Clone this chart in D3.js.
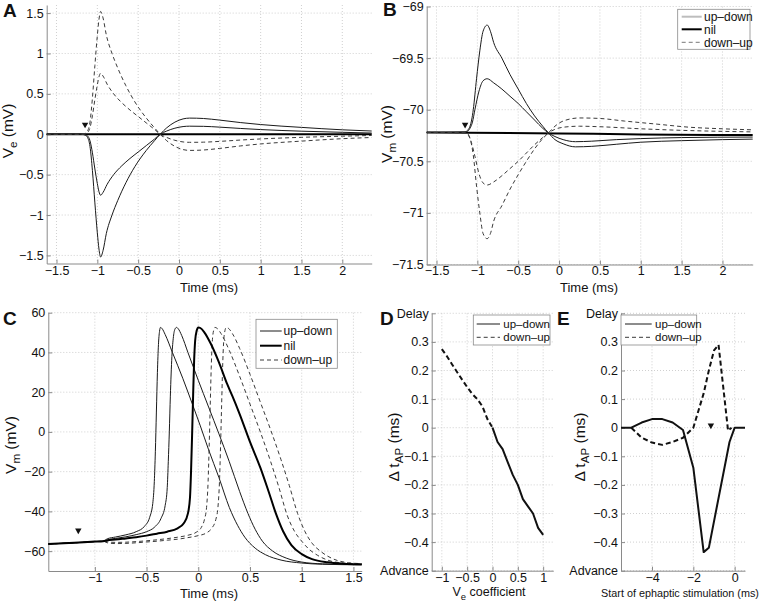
<!DOCTYPE html>
<html><head><meta charset="utf-8">
<script src="https://cdn.jsdelivr.net/npm/d3@7"></script>
<style>body{margin:0;background:#fff} text{font-family:"Liberation Sans",Arial,sans-serif;fill:#111}</style>
</head><body><svg id="c" width="763" height="602"></svg>
<script>
// ---------- Panel A: extracellular potential Ve (mV) ----------
const aUpDownBig = [[-1.62,0],[-1.2,0],[-1.15,-0.01],[-1.12,-0.04],[-1.09,-0.15],[-1.06,-0.45],[-1.03,-0.85],[-1.0,-1.22],[-0.98,-1.42],[-0.96,-1.52],[-0.93,-1.44],[-0.89,-1.23],[-0.82,-1.0],[-0.75,-0.82],[-0.65,-0.6],[-0.54,-0.4],[-0.4,-0.2],[-0.3,-0.08],[-0.23,0],[-0.15,0.08],[-0.05,0.15],[0.05,0.19],[0.13,0.2],[0.3,0.195],[0.5,0.175],[0.75,0.145],[1.0,0.12],[1.5,0.085],[2.0,0.055],[2.36,0.04]];
const aUpDownSmall = [[-1.62,0],[-1.2,0],[-1.15,-0.005],[-1.12,-0.02],[-1.09,-0.08],[-1.06,-0.23],[-1.03,-0.43],[-1.0,-0.61],[-0.98,-0.71],[-0.96,-0.755],[-0.93,-0.72],[-0.88,-0.62],[-0.8,-0.5],[-0.7,-0.39],[-0.6,-0.3],[-0.5,-0.22],[-0.4,-0.14],[-0.3,-0.06],[-0.23,0],[-0.15,0.04],[-0.05,0.075],[0.05,0.095],[0.13,0.1],[0.3,0.098],[0.5,0.088],[0.75,0.072],[1.0,0.058],[1.5,0.038],[2.0,0.024],[2.36,0.015]];
const aNil = [[-1.62,0],[2.36,0]];
const aDownUpBig = [[-1.62,0],[-1.2,0],[-1.15,0.01],[-1.12,0.04],[-1.09,0.15],[-1.06,0.45],[-1.03,0.85],[-1.0,1.22],[-0.98,1.42],[-0.96,1.52],[-0.93,1.44],[-0.89,1.23],[-0.82,1.0],[-0.75,0.82],[-0.65,0.6],[-0.54,0.4],[-0.4,0.2],[-0.3,0.08],[-0.23,0],[-0.15,-0.08],[-0.05,-0.15],[0.05,-0.19],[0.13,-0.2],[0.3,-0.195],[0.5,-0.175],[0.75,-0.145],[1.0,-0.12],[1.5,-0.085],[2.0,-0.055],[2.36,-0.04]];
const aDownUpSmall = [[-1.62,0],[-1.2,0],[-1.15,0.005],[-1.12,0.02],[-1.09,0.08],[-1.06,0.23],[-1.03,0.43],[-1.0,0.61],[-0.98,0.71],[-0.96,0.755],[-0.93,0.72],[-0.88,0.62],[-0.8,0.5],[-0.7,0.39],[-0.6,0.3],[-0.5,0.22],[-0.4,0.14],[-0.3,0.06],[-0.23,0],[-0.15,-0.04],[-0.05,-0.075],[0.05,-0.095],[0.13,-0.1],[0.3,-0.098],[0.5,-0.088],[0.75,-0.072],[1.0,-0.058],[1.5,-0.038],[2.0,-0.024],[2.36,-0.015]];
const aMarker = [-1.15, 0.12];
const aXTicks = [-1.5,-1,-0.5,0,0.5,1,1.5,2];
const aYTicks = [-1.5,-1,-0.5,0,0.5,1,1.5];

// ---------- Panel B: membrane potential Vm (mV) ----------
const bUpDownBig = [[-1.62,-70.22],[-1.15,-70.215],[-1.12,-70.2],[-1.09,-70.16],[-1.07,-70.1],[-1.05,-70.0],[-1.01,-69.7],[-0.97,-69.43],[-0.93,-69.24],[-0.88,-69.18],[-0.84,-69.24],[-0.8,-69.35],[-0.7,-69.5],[-0.6,-69.66],[-0.5,-69.8],[-0.4,-69.94],[-0.3,-70.06],[-0.2,-70.16],[-0.13,-70.225],[-0.05,-70.29],[0.05,-70.33],[0.2,-70.36],[0.4,-70.355],[0.7,-70.335],[1.0,-70.315],[1.5,-70.3],[2.0,-70.29],[2.37,-70.285]];
const bUpDownSmall = [[-1.62,-70.22],[-1.15,-70.218],[-1.12,-70.21],[-1.09,-70.18],[-1.06,-70.12],[-1.03,-70.0],[-0.98,-69.82],[-0.93,-69.72],[-0.88,-69.70],[-0.8,-69.74],[-0.7,-69.8],[-0.6,-69.87],[-0.5,-69.94],[-0.4,-70.02],[-0.3,-70.1],[-0.2,-70.18],[-0.13,-70.225],[-0.05,-70.26],[0.05,-70.29],[0.2,-70.31],[0.4,-70.305],[0.7,-70.29],[1.0,-70.28],[1.5,-70.27],[2.37,-70.265]];
const bNil = [[-1.62,-70.22],[0,-70.23],[1,-70.24],[2.37,-70.245]];
const bDownUpBig = [[-1.62,-70.22],[-1.15,-70.225],[-1.12,-70.24],[-1.09,-70.28],[-1.05,-70.44],[-1.01,-70.74],[-0.97,-71.0],[-0.93,-71.2],[-0.88,-71.25],[-0.84,-71.2],[-0.8,-71.08],[-0.7,-70.93],[-0.6,-70.77],[-0.5,-70.63],[-0.4,-70.5],[-0.3,-70.38],[-0.2,-70.28],[-0.13,-70.225],[-0.05,-70.16],[0.05,-70.11],[0.25,-70.08],[0.5,-70.085],[0.8,-70.11],[1.2,-70.14],[1.6,-70.17],[2.0,-70.185],[2.37,-70.195]];
const bDownUpSmall = [[-1.62,-70.22],[-1.15,-70.222],[-1.12,-70.23],[-1.08,-70.3],[-1.03,-70.45],[-0.98,-70.62],[-0.93,-70.71],[-0.88,-70.73],[-0.8,-70.7],[-0.7,-70.64],[-0.6,-70.57],[-0.5,-70.5],[-0.4,-70.42],[-0.3,-70.34],[-0.2,-70.27],[-0.13,-70.225],[-0.05,-70.19],[0.05,-70.17],[0.25,-70.16],[0.5,-70.165],[1.0,-70.185],[1.5,-70.2],[2.37,-70.215]];
const bMarker = [-1.15, -70.145];
const bXTicks = [-1.5,-1,-0.5,0,0.5,1,1.5,2];
const bYTicks = [-71.5,-71,-70.5,-70,-69.5,-69];

// ---------- Panel C: action potentials Vm (mV) ----------
const cUpDown1 = [[-1.45,-56.4],[-1.2,-55.8],[-1.0,-55.2],[-0.92,-55.0],[-0.88,-53.8],[-0.8,-52.9],[-0.7,-51.8],[-0.6,-50.2],[-0.52,-47.5],[-0.47,-43],[-0.44,-36],[-0.425,-25],[-0.415,-10],[-0.405,10],[-0.395,30],[-0.385,44],[-0.375,50.5],[-0.365,52.6],[-0.35,52],[-0.32,49],[-0.25,40],[-0.15,27],[-0.05,13],[0.02,3],[0.1,-9],[0.2,-23],[0.3,-38],[0.38,-47],[0.45,-53],[0.55,-58.5],[0.65,-61.8],[0.8,-64.5],[1.0,-66.0],[1.2,-66.6],[1.58,-66.9]];
const cUpDown2 = [[-1.45,-56.4],[-1.2,-55.8],[-1.0,-55.2],[-0.92,-55.0],[-0.88,-54.3],[-0.8,-53.6],[-0.7,-52.8],[-0.6,-51.7],[-0.5,-50.2],[-0.42,-47.8],[-0.36,-43.5],[-0.32,-37],[-0.3,-28],[-0.29,-15],[-0.28,0],[-0.27,18],[-0.255,38],[-0.24,48],[-0.225,51.8],[-0.21,52.6],[-0.195,52],[-0.16,48.5],[-0.1,40],[0,26],[0.1,12.5],[0.2,-1],[0.3,-15],[0.4,-30],[0.48,-41],[0.55,-49],[0.62,-55],[0.72,-60],[0.85,-63.5],[1.0,-65.5],[1.2,-66.4],[1.58,-66.8]];
const cNil = [[-1.45,-56.4],[-1.2,-55.8],[-1.0,-55.2],[-0.92,-55.0],[-0.88,-54.6],[-0.8,-54.2],[-0.7,-53.6],[-0.6,-53],[-0.5,-52.2],[-0.4,-51.2],[-0.3,-50.2],[-0.2,-48.5],[-0.14,-46],[-0.1,-41],[-0.08,-33],[-0.07,-20],[-0.06,-2],[-0.05,18],[-0.04,36],[-0.03,46],[-0.015,51],[0,52.6],[0.02,52.3],[0.06,50],[0.12,44.5],[0.2,35],[0.28,24],[0.33,18],[0.4,9],[0.5,-5],[0.6,-18],[0.68,-30],[0.75,-41],[0.82,-50],[0.9,-57],[1.0,-61.5],[1.1,-64],[1.25,-65.6],[1.4,-66.3],[1.58,-66.6]];
const cDownUp1 = [[-1.45,-56.4],[-1.2,-55.8],[-1.0,-55.2],[-0.92,-55.0],[-0.88,-55.4],[-0.8,-55.6],[-0.7,-55.5],[-0.6,-55.2],[-0.5,-54.8],[-0.4,-54.3],[-0.3,-53.7],[-0.2,-53],[-0.1,-52],[-0.02,-50.5],[0.03,-48],[0.06,-44],[0.08,-38],[0.095,-25],[0.105,-8],[0.115,12],[0.125,32],[0.135,45],[0.148,51],[0.16,52.6],[0.18,52.2],[0.22,49.5],[0.3,41],[0.4,28],[0.5,14],[0.6,0],[0.7,-15],[0.78,-28],[0.86,-42],[0.93,-50],[1.0,-55],[1.07,-59],[1.15,-62],[1.25,-64.5],[1.4,-66],[1.58,-66.5]];
const cDownUp2 = [[-1.45,-56.4],[-1.2,-55.8],[-1.0,-55.2],[-0.92,-55.0],[-0.88,-55.8],[-0.8,-56.2],[-0.7,-56.1],[-0.6,-55.8],[-0.5,-55.4],[-0.4,-55],[-0.3,-54.5],[-0.2,-54],[-0.1,-53.2],[0,-52.2],[0.08,-50.8],[0.13,-48.5],[0.17,-44],[0.19,-38],[0.205,-25],[0.215,-8],[0.225,12],[0.235,32],[0.245,45],[0.258,51],[0.27,52.6],[0.29,52.2],[0.33,49.5],[0.4,42],[0.5,29],[0.6,15],[0.7,1],[0.8,-14],[0.88,-27],[0.96,-41],[1.03,-50],[1.1,-56],[1.18,-60],[1.25,-62.5],[1.35,-64.8],[1.45,-65.8],[1.58,-66.3]];
const cMarker = [-1.16, -49.6];
const cXTicks = [-1,-0.5,0,0.5,1,1.5];
const cYTicks = [-60,-40,-20,0,20,40,60];

// ---------- Panel D: delta t_AP vs Ve coefficient ----------
const dDownUp = [[-1,0.275],[-0.9,0.25],[-0.8,0.222],[-0.7,0.195],[-0.6,0.168],[-0.5,0.142],[-0.4,0.118],[-0.3,0.1],[-0.2,0.075],[-0.1,0.03],[0,0]];
const dUpDown = [[0,0],[0.1,-0.05],[0.2,-0.075],[0.3,-0.12],[0.4,-0.165],[0.5,-0.2],[0.6,-0.25],[0.7,-0.275],[0.8,-0.3],[0.9,-0.35],[1.0,-0.375]];
const dXTicks = [-1,-0.5,0,0.5,1];
const dYTicks = [-0.5,-0.4,-0.3,-0.2,-0.1,0,0.1,0.2,0.3,0.4];
const dYLabels = ["Advance","−0.4","−0.3","−0.2","−0.1","0","0.1","0.2","0.3","Delay"];

// ---------- Panel E: delta t_AP vs start of ephaptic stimulation ----------
const eUpDown = [[-5.5,0],[-5,0],[-4.5,0.018],[-4,0.03],[-3.5,0.03],[-3,0.018],[-2.5,-0.008],[-2,-0.14],[-1.5,-0.435],[-1.25,-0.42],[-0.25,-0.05],[0,0],[0.5,0]];
const eDownUp = [[-5,0],[-4.5,-0.035],[-4,-0.052],[-3.5,-0.06],[-3,-0.05],[-2.5,-0.035],[-2,0],[-1.5,0.12],[-1.25,0.2],[-1,0.27],[-0.78,0.29],[-0.55,0.14],[-0.32,-0.01],[-0.15,0]];
const eMarker = [-1.15, 0.008];
const eXTicks = [-4,-2,0];
const eYTicks = dYTicks;
const eYLabels = dYLabels;

// ---------- drawing ----------
const svg = d3.select("#c");
const fmt = d => (d < 0 ? "\u2212" : "") + Math.abs(d);
const INK = "#1a1a1a", DASHC = "#3a3a3a";

function panel(cfg) {
  const x = d3.scaleLinear().domain(cfg.xd).range([cfg.l, cfg.r]);
  const y = d3.scaleLinear().domain(cfg.yd).range([cfg.b, cfg.t]);
  const g = svg.append("g");
  g.selectAll(null).data(cfg.xt).join("line")
    .attr("x1", d => x(d)).attr("x2", d => x(d)).attr("y1", cfg.t).attr("y2", cfg.b)
    .attr("stroke", "#c4c4c4").attr("stroke-width", 0.8).attr("stroke-dasharray", "1,2");
  g.selectAll(null).data(cfg.yt).join("line")
    .attr("y1", d => y(d)).attr("y2", d => y(d)).attr("x1", cfg.l).attr("x2", cfg.r)
    .attr("stroke", "#c4c4c4").attr("stroke-width", 0.8).attr("stroke-dasharray", "1,2");
  const xa = g.append("g").attr("transform", `translate(0,${cfg.b})`)
    .call(d3.axisBottom(x).tickValues(cfg.xt).tickFormat(cfg.xf || fmt).tickSizeInner(-4).tickSizeOuter(0).tickPadding(cfg.xp || 2.5));
  const ya = g.append("g").attr("transform", `translate(${cfg.l},0)`)
    .call(d3.axisLeft(y).tickValues(cfg.yt).tickFormat(cfg.yf || fmt).tickSizeInner(-4).tickSizeOuter(0).tickPadding(3));
  [xa, ya].forEach(a => {
    a.select(".domain").attr("stroke", "#8a8a8a");
    a.selectAll(".tick line").attr("stroke", "#8a8a8a");
    a.selectAll(".tick text").attr("font-size", 12.5).attr("font-family", "Liberation Sans, Arial, sans-serif").attr("fill", "#111");
  });
  return {x, y, g};
}

function curve(p, data, style, smooth) {
  const line = d3.line().x(d => p.x(d[0])).y(d => p.y(d[1]))
    .curve(smooth ? d3.curveMonotoneX : d3.curveLinear);
  p.g.append("path").datum(data).attr("d", line).attr("fill", "none")
    .attr("stroke", style.c).attr("stroke-width", style.w)
    .attr("stroke-dasharray", style.dash || null).attr("stroke-linejoin", "round");
}

function marker(p, m) {
  p.g.append("path").attr("d", d3.symbol(d3.symbolTriangle, 18)())
    .attr("transform", `translate(${p.x(m[0])},${p.y(m[1])}) rotate(180)`).attr("fill", "#111");
}

function legend(box, items, lx1, lx2, tx, rows, fs) {
  const g = svg.append("g");
  g.append("rect").attr("x", box[0]).attr("y", box[1]).attr("width", box[2]).attr("height", box[3])
    .attr("fill", "#fff").attr("stroke", "#8a8a8a").attr("stroke-width", 0.8);
  items.forEach((it, i) => {
    g.append("line").attr("x1", lx1).attr("x2", lx2).attr("y1", rows[i]).attr("y2", rows[i])
      .attr("stroke", it.c).attr("stroke-width", it.w).attr("stroke-dasharray", it.dash || null);
    g.append("text").attr("x", tx).attr("y", rows[i]).attr("dy", "0.35em").attr("font-size", fs).text(it.label);
  });
}

function ylabel(x, y, main, sub, rest, fs) {
  const t = svg.append("text").attr("transform", `translate(${x},${y}) rotate(-90)`)
    .attr("text-anchor", "middle").attr("font-size", fs);
  t.append("tspan").text(main);
  t.append("tspan").attr("dy", 4).attr("font-size", fs * 0.75).text(sub);
  t.append("tspan").attr("dy", -4).text(rest);
}
function xlabel(x, y, txt, fs) {
  svg.append("text").attr("x", x).attr("y", y).attr("text-anchor", "middle").attr("font-size", fs).text(txt);
}
function letter(x, y, s) {
  svg.append("text").attr("x", x).attr("y", y).attr("font-size", 19).attr("font-weight", "bold").text(s);
}

const thin = {c: INK, w: 1};
const thick = {c: "#000", w: 2};
const dashed = {c: DASHC, w: 1, dash: "4,3"};
const YL = 15.5;

// Panel A
const pA = panel({l: 46.7, r: 371.7, t: 5, b: 263.5, xd: [-1.62, 2.36], yd: [-1.6, 1.6], xt: aXTicks, yt: aYTicks});
curve(pA, aNil, thick, true);
curve(pA, aUpDownBig, thin, true);
curve(pA, aUpDownSmall, thin, true);
curve(pA, aDownUpBig, dashed, true);
curve(pA, aDownUpSmall, dashed, true);
marker(pA, aMarker);
ylabel(13, 131, "V", "e", " (mV)", YL);
xlabel(209, 291.5, "Time (ms)", 13);
letter(3, 17, "A");

// Panel B
const pB = panel({l: 426.7, r: 752.7, t: 6.5, b: 264.5, xd: [-1.62, 2.37], yd: [-71.5, -69], xt: bXTicks, yt: bYTicks, xp: 2});
curve(pB, bNil, thick, true);
curve(pB, bUpDownBig, thin, true);
curve(pB, bUpDownSmall, thin, true);
curve(pB, bDownUpBig, dashed, true);
curve(pB, bDownUpSmall, dashed, true);
marker(pB, bMarker);
ylabel(392, 134, "V", "m", " (mV)", YL);
xlabel(589, 292, "Time (ms)", 13);
letter(383, 16, "B");
legend([677.7, 9.3, 72.3, 40], [
  {label: "up\u2013down", c: "#bdbdbd", w: 2},
  {label: "nil", c: "#000", w: 2},
  {label: "down\u2013up", c: "#777", w: 1, dash: "4,3"}
], 681.7, 701.7, 704, [16.7, 29.3, 42.3], 12);

// Panel C
const pC = panel({l: 48.3, r: 361.7, t: 312.7, b: 571, xd: [-1.45, 1.58], yd: [-70, 60], xt: cXTicks, yt: cYTicks, xp: 2});
curve(pC, cUpDown1, thin, true);
curve(pC, cUpDown2, thin, true);
curve(pC, cDownUp1, dashed, true);
curve(pC, cDownUp2, dashed, true);
curve(pC, cNil, thick, true);
marker(pC, cMarker);
ylabel(16, 445, "V", "m", " (mV)", YL);
xlabel(209, 597.5, "Time (ms)", 13);
letter(3, 325, "C");
legend([256, 319.3, 81.3, 49], [
  {label: "up\u2013down", c: INK, w: 1},
  {label: "nil", c: "#000", w: 2},
  {label: "down\u2013up", c: DASHC, w: 1, dash: "4,3"}
], 260, 281.7, 283.5, [331, 345.7, 360], 12);

// Panel D
const pD = panel({l: 431.7, r: 553.3, t: 313.3, b: 570.7, xd: [-1.2, 1.2], yd: [-0.5, 0.4], xt: dXTicks, yt: dYTicks,
  yf: (d, i) => dYLabels[i], xp: 2});
curve(pD, dDownUp, {c: "#111", w: 2, dash: "5,3"}, false);
curve(pD, dUpDown, {c: "#111", w: 2}, false);
ylabel(399, 447, "\u0394 t", "AP", " (ms)", YL);
{
  const t = svg.append("text").attr("x", 489).attr("y", 596).attr("text-anchor", "middle").attr("font-size", 12.5);
  t.append("tspan").text("V");
  t.append("tspan").attr("dy", 3.5).attr("font-size", 9.5).text("e");
  t.append("tspan").attr("dy", -3.5).text(" coefficient");
}
letter(380, 325, "D");
legend([473.3, 315, 76.7, 30], [
  {label: "up\u2013down", c: INK, w: 1},
  {label: "down\u2013up", c: DASHC, w: 1, dash: "4,3"}
], 476.7, 500, 503.3, [324, 337.3], 11.5);

// Panel E
const pE = panel({l: 621, r: 745, t: 313.3, b: 570.7, xd: [-5.5, 0.5], yd: [-0.5, 0.4], xt: eXTicks, yt: eYTicks,
  yf: (d, i) => eYLabels[i], xp: 2});
curve(pE, eDownUp, {c: "#111", w: 2, dash: "5,3"}, false);
curve(pE, eUpDown, {c: "#111", w: 2}, false);
marker(pE, eMarker);
ylabel(585, 447, "\u0394 t", "AP", " (ms)", YL);
xlabel(680, 597, "Start of ephaptic stimulation (ms)", 10.8);
letter(557, 325, "E");
legend([621, 315, 75.7, 30], [
  {label: "up\u2013down", c: INK, w: 1},
  {label: "down\u2013up", c: DASHC, w: 1, dash: "4,3"}
], 625, 651.7, 655, [324, 337.3], 11.5);
</script></body></html>
